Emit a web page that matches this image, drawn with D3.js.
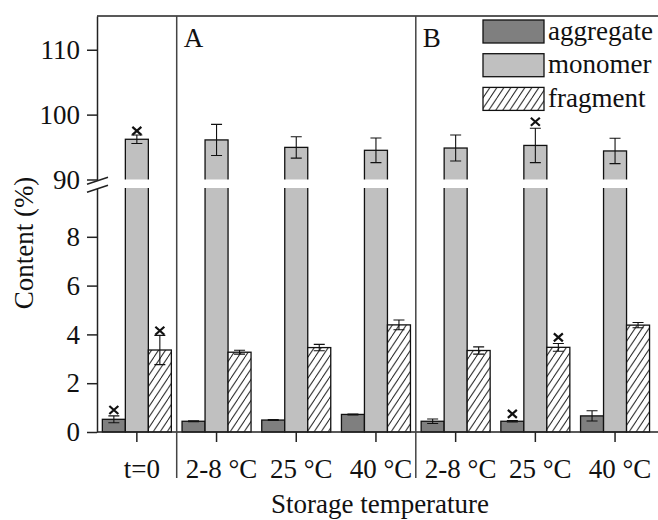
<!DOCTYPE html>
<html>
<head>
<meta charset="utf-8">
<script src="https://cdn.jsdelivr.net/npm/d3@7"></script>
<style>
  html, body { margin: 0; padding: 0; background: #fff; }
  text { font-family: "Liberation Serif", "Times New Roman", serif; fill: #111; }
</style>
</head>
<body>
<script>
// Protein content by storage condition (two studies, A and B)
const categories = ["t=0", "2-8 °C", "25 °C", "40 °C", "2-8 °C", "25 °C", "40 °C"];
const series = ["aggregate", "monomer", "fragment"];

const aggregate    = [0.52, 0.44, 0.49, 0.72, 0.44, 0.44, 0.66];
const aggregateErr = [0.14, 0.02, 0.02, 0.02, 0.09, 0.03, 0.21];
const monomer      = [96.2, 96.1, 94.95, 94.5, 94.85, 95.25, 94.4];
const monomerErr   = [0.65, 2.4, 1.65, 1.9, 2.0, 2.65, 1.95];
const fragment     = [3.36, 3.27, 3.46, 4.39, 3.34, 3.47, 4.38];
const fragmentErr  = [0.6, 0.08, 0.13, 0.2, 0.15, 0.16, 0.11];

// reference points marked with a cross
const aggregateMark = [0.9, null, null, null, null, 0.74, null];
const monomerMark   = [97.5, null, null, null, null, 98.9, null];
const fragmentMark  = [4.15, null, null, null, null, 3.88, null];

const lowerTicks = [0, 2, 4, 6, 8];
const upperTicks = [90, 100, 110];
const sections = [{ label: "A", at: 1 }, { label: "B", at: 4 }];

const values = { aggregate, monomer, fragment };
const errors = { aggregate: aggregateErr, monomer: monomerErr, fragment: fragmentErr };
const marks  = { aggregate: aggregateMark, monomer: monomerMark, fragment: fragmentMark };

const W = 658, H = 520;
const plotL = 97, plotT = 16, plotB = 432;
const FS = 27;

const svg = d3.select("body").append("svg").attr("width", W).attr("height", H);

// hatch for the fragment series
const defs = svg.append("defs");
const pw = 7, ph = 10.5;
const pat = defs.append("pattern").attr("id", "hatch")
  .attr("patternUnits", "userSpaceOnUse").attr("width", pw).attr("height", ph);
pat.append("rect").attr("width", pw).attr("height", ph).attr("fill", "#fff");
pat.append("path")
  .attr("d", `M0,${ph} L${pw},0 M${-pw},${ph} L0,0 M${pw},${ph} L${2 * pw},0`)
  .attr("stroke", "#222").attr("stroke-width", 1);

const fills = { aggregate: "#7f7f7f", monomer: "#c0c0c0", fragment: "url(#hatch)" };

// scales: band per condition, inner band per series, broken y axis
const x = d3.scaleBand().domain(d3.range(categories.length)).range([plotL, plotL + 7 * 79.7]);
const xi = d3.scaleBand().domain(series).range([-34.5, 34.5]);
const yLow = d3.scaleLinear().domain([0, 10]).range([plotB, 188]);
const yHigh = d3.scaleLinear().domain([90, 115.2]).range([179.5, plotT]);
const y = v => (v <= 10 ? yLow(v) : yHigh(v));
const cx = i => x(i) + x.bandwidth() / 2;

// bars
const rows = [];
series.forEach(s => values[s].forEach((v, i) => rows.push({ s, i, v, e: errors[s][i], m: marks[s][i] })));

svg.append("g").selectAll("rect").data(rows).join("rect")
  .attr("x", d => cx(d.i) + xi(d.s))
  .attr("y", d => y(d.v))
  .attr("width", xi.bandwidth())
  .attr("height", d => yLow(0) - y(d.v))
  .attr("fill", d => fills[d.s])
  .attr("stroke", "#111").attr("stroke-width", 1.3);

// error bars
const eb = svg.append("g").attr("stroke", "#111").attr("stroke-width", 1.1).attr("fill", "none");
eb.selectAll("path").data(rows).join("path")
  .attr("d", d => {
    const c = cx(d.i) + xi(d.s) + xi.bandwidth() / 2;
    const y1 = y(d.v + d.e), y0 = y(d.v - d.e);
    return `M${c},${y0} L${c},${y1} M${c - 5.5},${y1} L${c + 5.5},${y1} M${c - 5.5},${y0} L${c + 5.5},${y0}`;
  });

// gap where the axis is broken
svg.append("g").selectAll("rect").data(rows.filter(d => d.v > 10)).join("rect")
  .attr("x", d => cx(d.i) + xi(d.s) - 2)
  .attr("y", yHigh(90))
  .attr("width", xi.bandwidth() + 4)
  .attr("height", yLow(10) - yHigh(90))
  .attr("fill", "#fff");

// crosses
svg.append("g").attr("stroke", "#111").attr("stroke-width", 2.2).selectAll("path")
  .data(rows.filter(d => d.m != null)).join("path")
  .attr("d", d => {
    const c = cx(d.i) + xi(d.s) + xi.bandwidth() / 2, yy = y(d.m);
    return `M${c - 4.5},${yy - 4} L${c + 4.5},${yy + 4} M${c - 4.5},${yy + 4} L${c + 4.5},${yy - 4}`;
  });

// y axes (lower and upper segments)
function styleAxis(g) {
  g.attr("font-family", null).attr("font-size", null);
  g.selectAll("path.domain").attr("stroke", "#222").attr("stroke-width", 1.5);
  g.selectAll(".tick line").attr("stroke", "#222").attr("stroke-width", 1.5);
  g.selectAll(".tick text").attr("font-size", FS).attr("fill", "#111");
}
svg.append("g").attr("transform", `translate(${plotL},0)`)
  .call(d3.axisLeft(yLow).tickValues(lowerTicks).tickSize(10).tickPadding(7).tickSizeOuter(0))
  .call(styleAxis);
svg.append("g").attr("transform", `translate(${plotL},0)`)
  .call(d3.axisLeft(yHigh).tickValues(upperTicks).tickSize(10).tickPadding(7).tickSizeOuter(0))
  .call(styleAxis);

// break marks on the y axis
const bm = (yHigh(90) + yLow(10)) / 2;
svg.append("path")
  .attr("d", `M${plotL - 10},${bm + 0.5} L${plotL + 11},${bm - 6.5} L${plotL + 11},${bm + 1.5} L${plotL - 10},${bm + 8.5} Z`)
  .attr("fill", "#fff");
svg.append("path")
  .attr("d", `M${plotL - 10},${bm + 0.5} L${plotL + 11},${bm - 6.5} M${plotL - 10},${bm + 8.5} L${plotL + 11},${bm + 1.5}`)
  .attr("stroke", "#222").attr("stroke-width", 1.5).attr("fill", "none");

// x axis
const xa = svg.append("g").attr("transform", `translate(0,${plotB})`)
  .call(d3.axisBottom(x).tickFormat(i => categories[i]).tickSize(10).tickPadding(16.5))
  .call(styleAxis);
xa.select("path.domain").remove();
xa.selectAll(".tick text").attr("dx", 5);

// frame lines
svg.append("line").attr("x1", plotL).attr("x2", W).attr("y1", plotT).attr("y2", plotT)
  .attr("stroke", "#222").attr("stroke-width", 1.5);
svg.append("line").attr("x1", plotL).attr("x2", W).attr("y1", plotB).attr("y2", plotB)
  .attr("stroke", "#222").attr("stroke-width", 1.5);

// section separators and labels
svg.append("g").selectAll("line").data(sections).join("line")
  .attr("x1", d => x(d.at)).attr("x2", d => x(d.at))
  .attr("y1", plotT).attr("y2", 478)
  .attr("stroke", "#444").attr("stroke-width", 1.5);
svg.append("g").selectAll("text").data(sections).join("text")
  .attr("x", d => x(d.at) + 7).attr("y", 47)
  .attr("font-size", FS).text(d => d.label);

// axis titles
svg.append("text").attr("x", 380).attr("y", 513).attr("text-anchor", "middle")
  .attr("font-size", FS).text("Storage temperature");
svg.append("text").attr("transform", "translate(33,243) rotate(-90)").attr("text-anchor", "middle")
  .attr("font-size", FS).text("Content (%)");

// legend
const lg = svg.append("g").selectAll("g").data(series).join("g")
  .attr("transform", (d, k) => `translate(483,${20 + k * 33.7})`);
lg.append("rect").attr("width", 61).attr("height", 23)
  .attr("fill", d => fills[d]).attr("stroke", "#111").attr("stroke-width", 1.3);
lg.append("text").attr("x", 65).attr("y", 19.5).attr("font-size", FS).text(d => d);
</script>
</body>
</html>
